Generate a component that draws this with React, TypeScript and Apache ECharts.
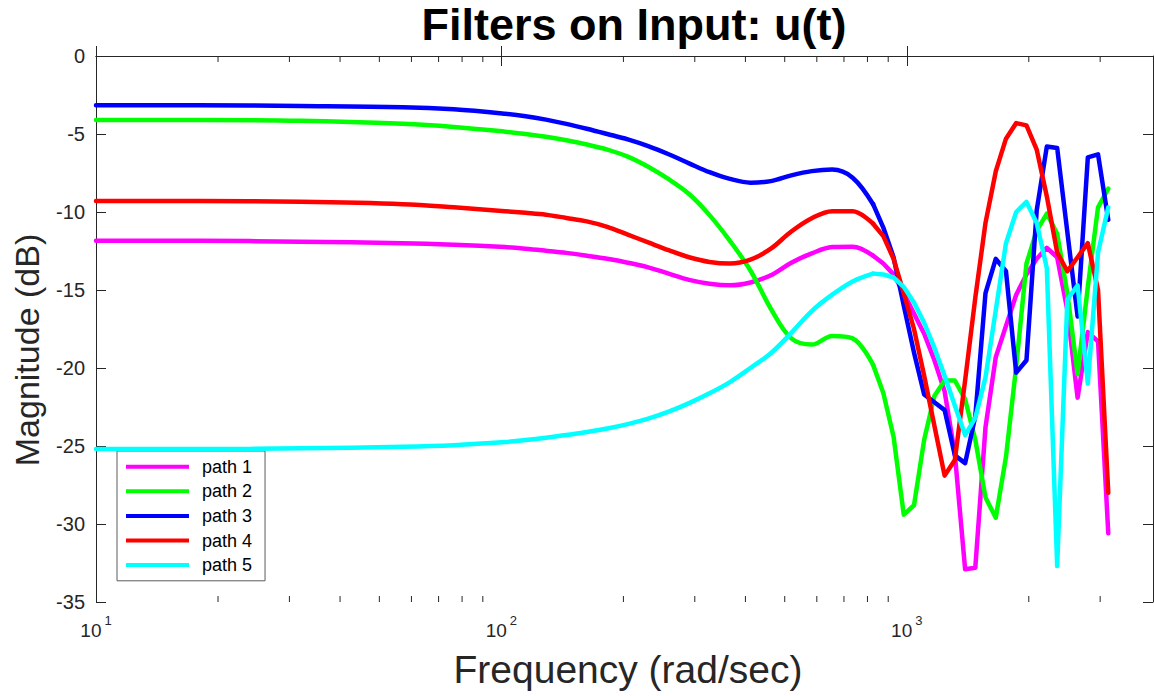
import React, { useEffect, useRef } from "react";
import * as echarts from "echarts";

// Frequency samples (rad/sec), log-spaced up to pi/Ts
const FREQ = [
  10, 17.87, 31.95, 57.1, 76.3, 102.1, 114.7, 128.8, 144.6, 162.4, 182.5, 205, 230.2, 258.6,
  290.4, 326.2, 366.3, 411.5, 462.1, 519.1, 583.0, 654.8, 735.4, 826.0, 875.4, 927.8, 983.1,
  1042, 1104, 1170, 1240, 1314, 1393, 1476, 1564, 1658, 1757, 1862, 1974, 2092, 2216, 2350,
  2490, 2639, 2797, 2964, 3141.6,
];
// Below this sample index the responses are smooth; above it they are drawn point to point
const SMOOTH_END = 23;

// Magnitudes (dB) for each filter path
const PATH1 = [
  -11.85, -11.85, -11.9, -12.0, -12.1, -12.25, -12.35, -12.48, -12.62, -12.8, -13.0, -13.25,
  -13.55, -13.95, -14.35, -14.6, -14.7, -14.52, -14.05, -13.25, -12.65, -12.25, -12.22, -12.8,
  -13.3, -14.0, -15.2, -16.5, -17.8, -19.5, -21.5, -25.5, -32.9, -32.8, -23.8, -19.3, -17.3,
  -15.3, -14.0, -13.0, -12.3, -12.9, -16.3, -21.9, -17.7, -18.3, -30.6,
];
const PATH2 = [
  -4.1, -4.1, -4.15, -4.35, -4.55, -4.85, -5.0, -5.18, -5.4, -5.67, -6.0, -6.45, -7.1, -7.9,
  -8.85, -10.2, -11.85, -13.75, -16.2, -18.1, -18.5, -17.95, -18.1, -19.8, -21.6, -24.4,
  -29.4, -28.8, -24.6, -21.8, -20.8, -20.8, -22.0, -24.6, -28.3, -29.6, -25.7, -19.9, -13.3,
  -11.2, -10.1, -11.4, -15.2, -20.4, -14.8, -9.7, -8.5,
];
const PATH3 = [
  -3.15, -3.15, -3.2, -3.28, -3.42, -3.7, -3.86, -4.08, -4.35, -4.66, -5.0, -5.35, -5.78, -6.3,
  -6.88, -7.45, -7.88, -8.12, -8.02, -7.65, -7.38, -7.28, -7.8, -9.5, -11.0, -12.9, -16.0,
  -19.0, -21.7, -22.2, -22.7, -25.6, -26.1, -23.1, -15.2, -13.0, -13.8, -20.3, -19.5, -9.9,
  -5.8, -5.9, -11.3, -16.7, -6.5, -6.3, -10.5,
];
const PATH4 = [
  -9.3, -9.3, -9.35, -9.5, -9.7, -9.95, -10.05, -10.17, -10.38, -10.6, -10.95, -11.45, -11.95,
  -12.45, -12.9, -13.2, -13.3, -13.05, -12.35, -11.25, -10.4, -9.95, -9.95, -10.75, -11.55,
  -13.0, -15.2, -17.5, -20.5, -23.7, -26.9, -25.9, -20.8, -15.5, -10.7, -7.4, -5.3, -4.3,
  -4.45, -6.0, -9.0, -12.6, -13.8, -12.9, -12.0, -15.0, -28.0,
];
const PATH5 = [
  -25.2, -25.2, -25.15, -25.05, -24.95, -24.75, -24.62, -24.47, -24.3, -24.1, -23.88, -23.6,
  -23.25, -22.8, -22.25, -21.62, -20.9, -20.0, -19.05, -17.75, -16.35, -15.3, -14.45, -13.95,
  -14.0, -14.2, -14.8, -15.8, -17.1, -18.7, -20.5, -22.4, -24.3, -23.2, -20.6, -16.3, -12.0,
  -10.0, -9.35, -10.7, -13.6, -32.7, -15.6, -14.7, -21.0, -12.6, -9.7,
];

const NAMES = ["path 1", "path 2", "path 3", "path 4", "path 5"];
const VALUES = [PATH1, PATH2, PATH3, PATH4, PATH5];
const COLORS = ["#ff00ff", "#00ff00", "#0000ff", "#ff0000", "#00ffff"];

const Y_MIN = -35;
const Y_MAX = 0;
const Y_STEP = 5;
const X_MIN = 10;
const X_MAX = 4050;
const MINOR_X_TICKS = [
  20, 30, 40, 50, 60, 70, 80, 90, 200, 300, 400, 500, 600, 700, 800, 900, 2000, 3000,
];

const FONT = '"Liberation Sans", Arial, Helvetica, sans-serif';
const AXIS_COLOR = "#262626";

export default function App() {
  const ref = useRef<HTMLDivElement>(null);

  useEffect(() => {
    if (!ref.current) return;
    const chart = echarts.init(ref.current, null, { renderer: "svg" });

    const axisLine = { show: true, lineStyle: { color: AXIS_COLOR, width: 1 } };
    const majorTick = { show: true, inside: true, length: 10, lineStyle: { color: AXIS_COLOR, width: 1 } };

    const pairs = (k: number, from: number, to: number) =>
      FREQ.slice(from, to + 1).map((f, i) => [f, VALUES[k][from + i]]);

    // Each path: a smooth low-frequency part and a point-to-point high-frequency part
    const lineSeries = NAMES.flatMap((name, k) => {
      const common = {
        type: "line",
        name,
        symbol: "none",
        showSymbol: false,
        lineStyle: { width: 4.5, color: COLORS[k], cap: "round", join: "round" },
        itemStyle: { color: COLORS[k] },
        z: 2 + k,
      };
      return [
        { ...common, data: pairs(k, 0, SMOOTH_END), smooth: 0.35 },
        { ...common, data: pairs(k, SMOOTH_END, FREQ.length - 1), smooth: false },
      ];
    });

    const option = {
      animation: false,
      backgroundColor: "#ffffff",
      grid: { left: 96, top: 56, right: 1, bottom: 94, containLabel: false },
      xAxis: [
        {
          type: "log",
          logBase: 10,
          min: X_MIN,
          max: X_MAX,
          position: "bottom",
          axisLine,
          axisTick: majorTick,
          splitLine: { show: false },
          axisLabel: {
            showMaxLabel: false,
            margin: 12,
            formatter: (v: number) => `{b|10}{s|${Math.round(Math.log10(v))}}`,
            rich: {
              b: { fontSize: 19, fontFamily: FONT, color: AXIS_COLOR, lineHeight: 26, verticalAlign: "bottom" },
              s: { fontSize: 13, fontFamily: FONT, color: AXIS_COLOR, lineHeight: 14, verticalAlign: "top", padding: [0, 0, 0, 3] },
            },
          },
        },
        {
          type: "log",
          logBase: 10,
          min: X_MIN,
          max: X_MAX,
          position: "top",
          axisLine,
          axisTick: majorTick,
          axisLabel: { show: false },
          splitLine: { show: false },
        },
      ],
      yAxis: [
        {
          type: "value",
          min: Y_MIN,
          max: Y_MAX,
          interval: Y_STEP,
          position: "left",
          axisLine,
          axisTick: majorTick,
          splitLine: { show: false },
          axisLabel: { fontSize: 20, fontFamily: FONT, color: AXIS_COLOR, margin: 11 },
        },
        {
          type: "value",
          min: Y_MIN,
          max: Y_MAX,
          interval: Y_STEP,
          position: "right",
          axisLine,
          axisTick: majorTick,
          axisLabel: { show: false },
          splitLine: { show: false },
        },
      ],
      legend: {
        data: NAMES,
        orient: "vertical",
        left: 117,
        top: 451,
        icon: "rect",
        itemWidth: 63,
        itemHeight: 4,
        itemGap: 4.6,
        padding: [5.7, 13, 5.7, 9],
        borderColor: "#5a5a5a",
        borderWidth: 1,
        backgroundColor: "#ffffff",
        selectedMode: false,
        textStyle: { fontSize: 18, fontFamily: FONT, color: "#000000", lineHeight: 20, padding: [0, 0, 0, 8] },
      },
      graphic: [
        {
          type: "text",
          x: 634,
          y: 24,
          style: {
            text: "Filters on Input: u(t)",
            font: `bold 45px ${FONT}`,
            fill: "#000000",
            align: "center",
            textAlign: "center",
            verticalAlign: "middle",
            textVerticalAlign: "middle",
          },
        },
        {
          type: "text",
          x: 628,
          y: 669,
          style: {
            text: "Frequency (rad/sec)",
            font: `39px ${FONT}`,
            fill: AXIS_COLOR,
            align: "center",
            textAlign: "center",
            verticalAlign: "middle",
            textVerticalAlign: "middle",
          },
        },
        {
          type: "text",
          x: 27,
          y: 350,
          rotation: Math.PI / 2,
          style: {
            text: "Magnitude (dB)",
            font: `34px ${FONT}`,
            fill: AXIS_COLOR,
            align: "center",
            textAlign: "center",
            verticalAlign: "middle",
            textVerticalAlign: "middle",
          },
        },
      ],
      series: [
        ...lineSeries,
        {
          type: "custom",
          xAxisIndex: 0,
          yAxisIndex: 0,
          silent: true,
          clip: false,
          z: 20,
          data: MINOR_X_TICKS.map((v) => [v, Y_MIN]),
          renderItem: (_params: any, api: any) => {
            const bottom = api.coord([api.value(0), Y_MIN]);
            const top = api.coord([api.value(0), Y_MAX]);
            const style = { stroke: AXIS_COLOR, lineWidth: 1 };
            return {
              type: "group",
              children: [
                { type: "line", shape: { x1: bottom[0], y1: bottom[1], x2: bottom[0], y2: bottom[1] - 6 }, style },
                { type: "line", shape: { x1: top[0], y1: top[1], x2: top[0], y2: top[1] + 6 }, style },
              ],
            };
          },
        },
      ],
    };

    chart.setOption(option as any);
    return () => chart.dispose();
  }, []);

  return (
    <div
      ref={ref}
      style={{ position: "fixed", left: 0, top: 0, width: 1154, height: 696, background: "#ffffff" }}
    />
  );
}
